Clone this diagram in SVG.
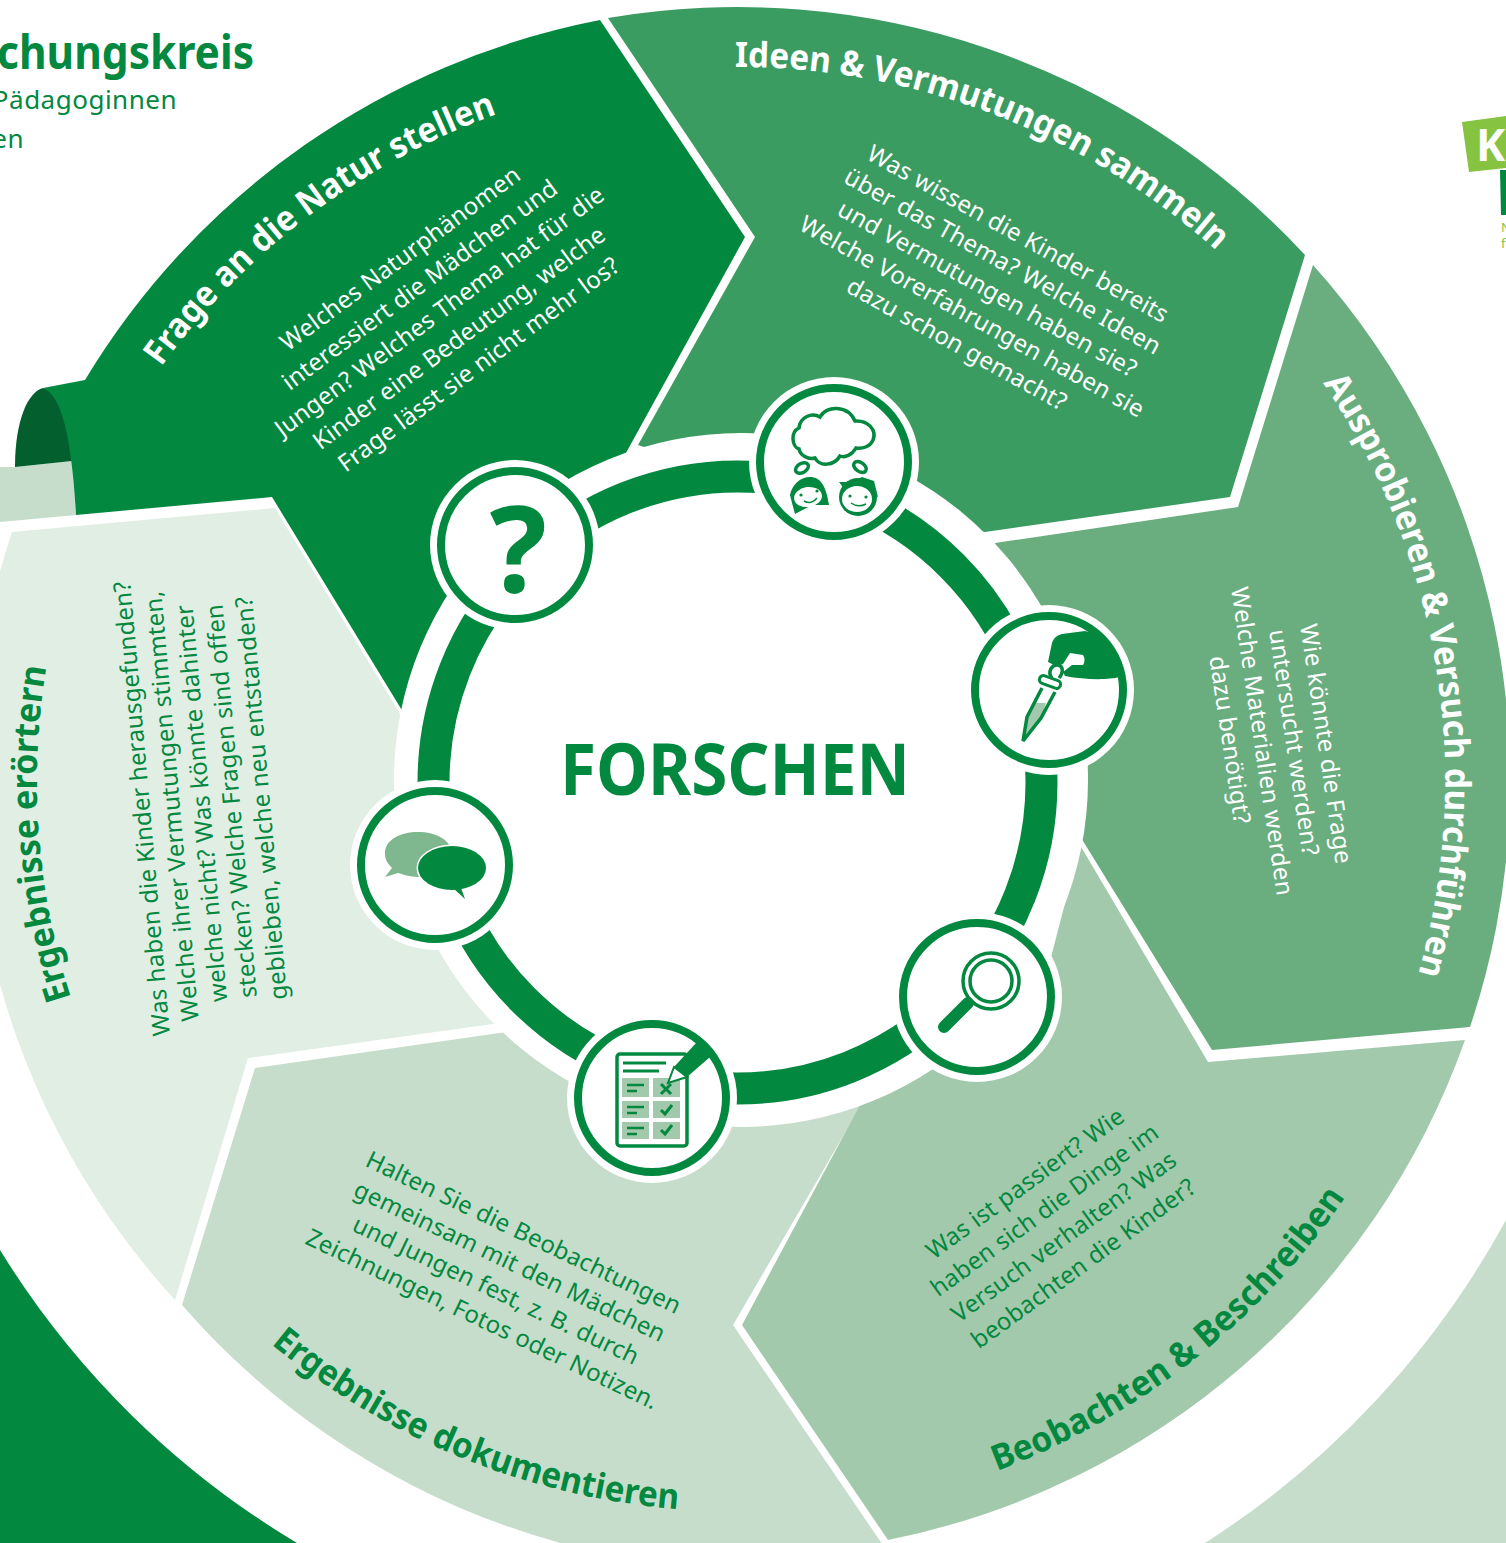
<svg xmlns="http://www.w3.org/2000/svg" width="1506" height="1543" viewBox="0 0 1506 1543">
<style>
.t{font-family:"Noto Sans","Liberation Sans",sans-serif;font-weight:700;font-size:35px}
.b{font-family:"Noto Sans","Liberation Sans",sans-serif;font-size:24px;text-anchor:middle;letter-spacing:.2px}
.w{fill:#fff}.g{fill:#02883f}
.halo{fill:#fff}.rg{fill:#fff;stroke:#02883f;stroke-width:8}
.ln{fill:none;stroke:#02883f;stroke-width:3.5}
</style>
<defs>
<path id="p1" d="M161,367A710,710 0 0 1 518,107"/>
<path id="p2" d="M735,67A716,716 0 0 1 1243,276"/>
<path id="p3" d="M1323,383A708,708 0 0 1 1402,1024"/>
<path id="p4" d="M997,1471A737,737 0 0 0 1375,1150"/>
<path id="p5" d="M271,1344A730,730 0 0 0 762,1511"/>
<path id="p6" d="M71,998A700,700 0 0 1 79,543"/>
</defs>
<rect width="1506" height="1543" fill="#fff"/>
<g id="background">
<path d="M0,1250A876,876 0 0 0 297,1543H0Z" fill="#02883f"/>
<path d="M1506,1220A888,888 0 0 1 1205,1543H1506Z" fill="#c6ddcb"/>
</g>
<g id="header">
<text x="254" y="68.5" text-anchor="end" textLength="257" lengthAdjust="spacingAndGlyphs" style="font-family:'Noto Sans',sans-serif;font-weight:700;font-size:46px" class="g">chungskreis</text>
<text x="177" y="109" text-anchor="end" style="font-family:'Noto Sans',sans-serif;font-size:26px;letter-spacing:.5px" class="g">Pädagoginnen</text>
<text x="24" y="148" text-anchor="end" style="font-family:'Noto Sans',sans-serif;font-size:26px;letter-spacing:.5px" class="g">en</text>
</g>
<g id="logo">
<path d="M1462,122L1506,116V168L1469,172Z" fill="#85c341"/>
<path d="M1500,170H1506V215H1501Z" fill="#02883f"/>
<text x="1476" y="161" style="font-family:'Noto Sans',sans-serif;font-weight:700;font-size:44px" class="w">K</text>
<text x="1501" y="232" style="font-family:'Noto Sans',sans-serif;font-size:13px" fill="#85c341">N</text>
<text x="1501" y="248" style="font-family:'Noto Sans',sans-serif;font-size:13px" fill="#85c341">f</text>
</g>

<g id="sector-dokumentieren">
<path d="M893,1560L733,1325L870,1090L520,1030L255,1068L182,1305A773,773 0 0 0 893,1560Z" fill="#c6ddcb"/>
<text class="t g"><textPath href="#p5" textLength="446" lengthAdjust="spacingAndGlyphs">Ergebnisse dokumentieren</textPath></text>
<text class="b g" transform="translate(520,1240) rotate(25.5)"><tspan x="0" y="0">Halten Sie die Beobachtungen</tspan><tspan x="0" y="32">gemeinsam mit den Mädchen</tspan><tspan x="0" y="64">und Jungen fest, z. B. durch</tspan><tspan x="0" y="96">Zeichnungen, Fotos oder Notizen.</tspan></text>
</g>
<g id="sector-eroertern">
<path d="M12,532L275,508L410,730L500,1023L248,1058L175,1300A773,773 0 0 1 12,532Z" fill="#e1eee4"/>
<text class="t g"><textPath href="#p6" textLength="335" lengthAdjust="spacingAndGlyphs">Ergebnisse erörtern</textPath></text>
<text class="b g" transform="translate(150,808) rotate(-95)"><tspan x="0" y="0">Was haben die Kinder herausgefunden?</tspan><tspan x="0" y="30">Welche ihrer Vermutungen stimmten,</tspan><tspan x="0" y="60">welche nicht? Was könnte dahinter</tspan><tspan x="0" y="90">stecken? Welche Fragen sind offen</tspan><tspan x="0" y="120">geblieben, welche neu entstanden?</tspan></text>
</g>
<g id="sector-beobachten">
<path d="M1465,1040L1208,1062L1080,845L1040,1000L860,1105L742,1325L888,1540A773,773 0 0 0 1465,1040Z" fill="#a3c9ac"/>
<text class="t g"><textPath href="#p4" textLength="450" lengthAdjust="spacingAndGlyphs">Beobachten &amp; Beschreiben</textPath></text>
<text class="b g" transform="translate(1030,1190) rotate(-36)"><tspan x="0" y="0">Was ist passiert? Wie</tspan><tspan x="0" y="33">haben sich die Dinge im</tspan><tspan x="0" y="66">Versuch verhalten? Was</tspan><tspan x="0" y="99">beobachten die Kinder?</tspan></text>
</g>
<g id="sector-ausprobieren">
<path d="M1313,265L1238,507L995,543L1050,700L1070,820L1212,1050L1470,1027A773,773 0 0 0 1313,265Z" fill="#6aae80"/>
<text class="t w"><textPath href="#p3" textLength="618" lengthAdjust="spacingAndGlyphs">Ausprobieren &amp; Versuch durchführen</textPath></text>
<text class="b w" transform="translate(1318,745) rotate(81.5)"><tspan x="0" y="0">Wie könnte die Frage</tspan><tspan x="-6" y="31.5">untersucht werden?</tspan><tspan x="-12" y="63">Welche Materialien werden</tspan><tspan x="-18" y="94.5">dazu benötigt?</tspan></text>
</g>
<g id="sector-ideen">
<path d="M608,18A773,773 0 0 1 1305,255L1230,497L985,532L800,500L638,445L755,237Z" fill="#3b9c62"/>
<text class="t w"><textPath href="#p2" textLength="527" lengthAdjust="spacingAndGlyphs">Ideen &amp; Vermutungen sammeln</textPath></text>
<text class="b w" transform="translate(1014,241) rotate(29)"><tspan x="0" y="0">Was wissen die Kinder bereits</tspan><tspan x="0" y="31.5">über das Thema? Welche Ideen</tspan><tspan x="0" y="63">und Vermutungen haben sie?</tspan><tspan x="0" y="94.5">Welche Vorerfahrungen haben sie</tspan><tspan x="0" y="126">dazu schon gemacht?</tspan></text>
</g>
<g id="sector-frage">
<path d="M15,467L72,461L76,515L0,522V467Z" fill="#c6ddcb"/>
<path d="M43,388C28,392 15,420 15,467L72,461C70,420 58,392 43,388Z" fill="#035f2d"/>
<path d="M43,388L85,380A773,773 0 0 1 600,20L745,237L600,500L403,712L272,497L76,515C72,440 62,395 43,388Z" fill="#02883f"/>
<text class="t w"><textPath href="#p1" textLength="427" lengthAdjust="spacingAndGlyphs">Frage an die Natur stellen</textPath></text>
<text class="b w" transform="translate(405,265) rotate(-36.5)"><tspan x="0" y="0">Welches Naturphänomen</tspan><tspan x="0" y="33">interessiert die Mädchen und</tspan><tspan x="0" y="66">Jungen? Welches Thema hat für die</tspan><tspan x="0" y="99">Kinder eine Bedeutung, welche</tspan><tspan x="0" y="132">Frage lässt sie nicht mehr los?</tspan></text>
</g>

<circle cx="741" cy="780" r="347" fill="#fff"/>
<g id="connectors">
<ellipse cx="737.5" cy="782.5" rx="304" ry="306" fill="none" stroke="#02883f" stroke-width="32"/>
</g>
<g id="center">
<text x="735" y="795" text-anchor="middle" textLength="350" lengthAdjust="spacingAndGlyphs" style="font-family:'Noto Sans',sans-serif;font-weight:700;font-size:72px" class="g">FORSCHEN</text>
</g>

<g id="icon-frage">
<circle class="halo" cx="515" cy="545" r="85"/><circle class="rg" cx="515" cy="545" r="74"/>
<text x="518" y="592" text-anchor="middle" style="font-family:'Noto Sans',sans-serif;font-weight:700;font-size:120px" class="g">?</text>
</g>
<g id="icon-ideen">
<circle class="halo" cx="834" cy="462" r="85"/><circle class="rg" cx="834" cy="462" r="74"/>
<path class="ln" d="M799,428C800,417 812,412 820,417C826,405 848,405 855,421C868,420 877,430 873,440C870,447 862,449 856,448C852,455 845,458 840,456C834,466 820,467 815,458C808,460 800,455 799,449C792,447 790,432 799,428Z"/>
<ellipse class="ln" cx="802" cy="468" rx="7" ry="4.5" transform="rotate(-30 802 468)" stroke-width="3"/>
<ellipse class="ln" cx="860" cy="467" rx="7" ry="4.5" transform="rotate(35 860 467)" stroke-width="3"/>
<path class="g" d="M790,495C792,485 800,477 810,477C820,477 826,485 829,505L812,505L795,514L792,503Z"/>
<ellipse cx="808" cy="497" rx="14" ry="10" fill="#fff" transform="rotate(-8 808 497)"/>
<circle class="g" cx="801" cy="495" r="1.6"/><circle class="g" cx="817" cy="491" r="1.6"/>
<path d="M804,501Q811,505 817,498" fill="none" stroke="#02883f" stroke-width="1.5"/>
<circle class="g" cx="858" cy="497" r="19"/>
<path class="g" d="M839,482L852,482L862,477L874,481L878,497L860,490L845,490Z"/>
<ellipse cx="857" cy="499" rx="15" ry="13" fill="#fff"/>
<circle class="g" cx="850" cy="496" r="1.6"/><circle class="g" cx="866" cy="497" r="1.6"/>
<path d="M851,503Q858,508 866,504" fill="none" stroke="#02883f" stroke-width="1.5"/>
</g>
<g id="icon-ausprobieren">
<circle class="halo" cx="1049" cy="690" r="85"/><circle class="rg" cx="1049" cy="690" r="74"/>
<path class="g" d="M1052,643C1054,637 1058,635 1062,634L1085,631Q1105,635 1117,656L1119,677C1110,680 1085,680 1065,676L1063,672L1072,665L1083,665Q1086,660 1083,655L1070,653L1063,664L1056,666L1048,662Z"/>
<path d="M1035,703L1027,717L1023,741L1041,718L1046,703Z" fill="#a3c9ac"/>
<path class="ln" d="M1042,688L1027,717L1023,741L1041,718L1055,692"/>
<path class="ln" d="M1052,678C1047,672 1052,664 1058,665C1063,666 1064,672 1059,678" stroke-width="3"/>
<rect x="1039" y="678" width="22" height="8" rx="4" transform="rotate(20 1050 682)" fill="#fff" stroke="#02883f" stroke-width="3"/>
</g>
<g id="icon-beobachten">
<circle class="halo" cx="977" cy="997" r="85"/><circle class="rg" cx="977" cy="997" r="74"/>
<circle class="ln" cx="991" cy="981" r="28"/><circle class="ln" cx="991" cy="981" r="21"/>
<path d="M968,1003L944,1027" stroke="#02883f" stroke-width="12" stroke-linecap="round"/>
</g>
<g id="icon-dokumentieren">
<circle class="halo" cx="652" cy="1098" r="85"/><circle class="rg" cx="652" cy="1098" r="74"/>
<rect class="ln" x="617" y="1054" width="70" height="92" rx="3"/>
<path d="M623,1063H666M623,1071H659" stroke="#02883f" stroke-width="3"/>
<path d="M622,1078H649V1097H622ZM653,1078H680V1097H653ZM622,1101H649V1118H622ZM653,1101H680V1118H653ZM622,1122H649V1139H622ZM653,1122H680V1139H653Z" fill="#a3c9ac"/>
<path d="M627,1085H644M627,1091H637M627,1107H644M627,1113H637M627,1128H644M627,1134H637" stroke="#02883f" stroke-width="2.5"/>
<path d="M661,1084L671,1094M671,1084L661,1094" stroke="#02883f" stroke-width="3"/>
<path d="M661,1110L665,1114L672,1105M661,1130L665,1134L672,1125" fill="none" stroke="#02883f" stroke-width="3"/>
<path class="g" d="M674,1067L697,1042L710,1057L687,1077Z"/>
<path d="M674,1067L687,1077L668,1083Z" fill="#fff" stroke="#02883f" stroke-width="2"/>
</g>
<g id="icon-eroertern">
<circle class="halo" cx="435" cy="865" r="85"/><circle class="rg" cx="435" cy="865" r="74"/>
<path d="M385,877L392,868C386,862 385,858 385,853C385,840 400,832 418,832C436,832 451,840 452,853C452,866 436,875 418,877C410,877 402,874 398,873Z" fill="#7fb78e"/>
<ellipse cx="452" cy="868" rx="34" ry="22" fill="#02883f" stroke="#fff" stroke-width="3" paint-order="stroke"/>
<path class="g" d="M453,888L465,899L461,888Z"/>
</g>
</svg>
